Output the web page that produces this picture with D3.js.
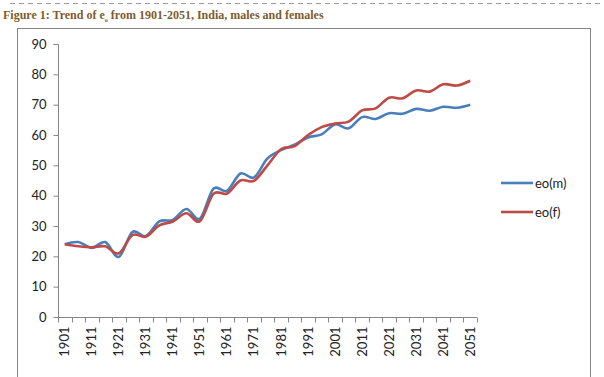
<!DOCTYPE html>
<html><head><meta charset="utf-8">
<script src="https://cdn.jsdelivr.net/npm/d3@7"></script>
<style>body{margin:0;background:#fff}svg{display:block}</style>
</head><body>
<svg id="c" width="604" height="377"></svg>
<script>
const years = d3.range(1901, 2052, 5);
const male = [24,24.7,22.8,24.7,19.8,28,26.7,31.5,32,35.6,32.4,42.3,41.6,47.3,46,52.3,55,56.8,59.2,60.2,63.5,62.2,65.9,65.3,67.2,67,68.6,68,69.3,69,70];
const female = [24,23.3,23,23.3,21,27,26.5,30.2,31.5,34.2,31.6,40.6,40.7,45,44.9,50,55.3,56.3,60,62.6,63.8,64.4,68.1,68.8,72.3,72.1,74.7,74.3,76.7,76.3,77.9];
const yTicks = [0,10,20,30,40,50,60,70,80,90];
const seriesNames = ["eo(m)","eo(f)"];
const colors = ["#4a7ebb","#be4b48"];

const svg = d3.select("#c");
const axisColor = "#868686";
const font = "Lato, 'Open Sans', sans-serif";

// top dashed line
svg.append("line").attr("x1",10).attr("x2",604).attr("y1",3.5).attr("y2",3.5)
  .attr("stroke","#9a9a9a").attr("stroke-width",1).attr("stroke-dasharray","5,4");

// title
const t = svg.append("text").attr("x",3).attr("y",19)
  .attr("font-family","'Liberation Serif', 'Times New Roman', serif")
  .attr("font-weight","bold").attr("font-size",12).attr("fill","#7d5c2e");
t.append("tspan").text("Figure 1: Trend of e");
t.append("tspan").attr("font-size",6).attr("dy",3).text("o");
t.append("tspan").attr("dy",-3).text(" from 1901-2051, India, males and females");

// chart border
svg.append("rect").attr("x",17.5).attr("y",28.5).attr("width",573).attr("height",360)
  .attr("fill","none").attr("stroke",axisColor).attr("stroke-width",1);

const x = d3.scaleBand().domain(years).range([58,477]);
const y = d3.scaleLinear().domain([0,90]).range([317,44]);

// y axis
const ya = svg.append("g").attr("transform","translate(58.5,0)")
  .call(d3.axisLeft(y).tickValues(yTicks).tickSize(5).tickPadding(7).tickFormat(d3.format("d")));
ya.select(".domain").attr("stroke",axisColor).attr("d", `M-5,${y(90)+0.5}H0V${y(0)+0.5}`);
ya.selectAll(".tick line").attr("stroke",axisColor);
ya.selectAll("text").attr("font-family",font).attr("font-size",13).attr("fill","#222");
ya.selectAll(".tick").attr("transform", d => `translate(0,${y(d)+0.5})`);

// x axis
const xg = svg.append("g").attr("transform",`translate(0,${y(0)+0.5})`);
xg.append("line").attr("x1",58).attr("x2",477).attr("stroke",axisColor);
const bounds = years.map(d => x(d)).concat([x.range()[1]]);
xg.selectAll(".tk").data(bounds).join("line").attr("class","tk")
  .attr("x1",d=>Math.round(d)+0.5).attr("x2",d=>Math.round(d)+0.5).attr("y1",0).attr("y2",5)
  .attr("stroke",axisColor);
xg.selectAll(".lb").data(years.filter((d,i)=>i%2===0)).join("text").attr("class","lb")
  .attr("transform", d => `translate(${x(d)+x.bandwidth()/2+4.5},9) rotate(-90)`)
  .attr("text-anchor","end").attr("font-family",font).attr("font-size",13).attr("fill","#222")
  .text(d=>d);

// lines
const line = d3.line().x((d,i)=>x(years[i])+x.bandwidth()/2).y(d=>y(d)).curve(d3.curveCatmullRom.alpha(0));
[male,female].forEach((s,i)=>{
  svg.append("path").datum(s).attr("d",line).attr("fill","none")
    .attr("stroke",colors[i]).attr("stroke-width",2.6).attr("stroke-linejoin","round");
});

// legend
seriesNames.forEach((n,i)=>{
  const ly = 183 + i*29;
  svg.append("line").attr("x1",501).attr("x2",533).attr("y1",ly).attr("y2",ly)
    .attr("stroke",colors[i]).attr("stroke-width",2.6);
  svg.append("text").attr("x",535).attr("y",ly+4.5).attr("font-family",font).attr("font-size",13)
    .attr("fill","#222").text(n);
});
</script>
</body></html>
